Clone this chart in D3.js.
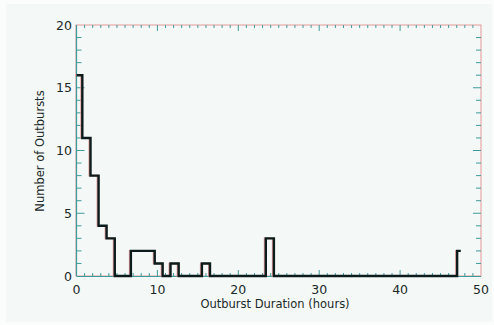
<!DOCTYPE html>
<html><head><meta charset="utf-8">
<script src="https://cdn.jsdelivr.net/npm/d3@7"></script>
<style>
html,body{margin:0;padding:0;background:#fbfdfc;}
svg{display:block;}
text{font-family:"DejaVu Sans",sans-serif;fill:#1b2a2a;}
</style></head>
<body>
<svg id="c" width="494" height="325"></svg>
<script>
// Histogram: bin edges (hours) and counts per bin
const binEdges = [0, 0.72, 1.73, 2.73, 3.72, 4.73, 6.72, 9.67, 10.65, 11.62, 12.63, 15.5, 16.5, 23.4, 24.4, 47.05, 47.5];
const binCounts = [16, 11, 8, 4, 3, 0, 2, 1, 0, 1, 0, 1, 0, 3, 0, 2];
const xTickLabels = [0, 10, 20, 30, 40, 50];
const yTickLabels = [0, 5, 10, 15, 20];
const xTitle = "Outburst Duration (hours)";
const yTitle = "Number of Outbursts";

const svg = d3.select("#c");
svg.append("rect").attr("x", 6).attr("y", 4).attr("width", 486).attr("height", 318).attr("fill", "#f4f8f6");
const L = 76.5, R = 481, T = 25, B = 276;
const x = d3.scaleLinear().domain([0, 50]).range([L, R]);
const y = d3.scaleLinear().domain([0, 20]).range([B, T]);

const teal = "#3e9c9c", pink = "#e49a9a";

// histogram step line
const pts = binCounts.map((c, i) => [binEdges[i], c]);
pts.push([binEdges[binEdges.length - 1], binCounts[binCounts.length - 1]]);
const line = d3.line().x(d => x(d[0])).y(d => y(d[1])).curve(d3.curveStepAfter);

// frame
const g = svg.append("g");
g.append("rect").attr("x", L - 0.5).attr("y", T).attr("width", R - L + 0.5).attr("height", B - T)
  .attr("fill", "none").attr("stroke", pink).attr("stroke-width", 1);
g.append("line").attr("x1", L).attr("x2", L).attr("y1", T).attr("y2", B).attr("stroke", teal).attr("stroke-width", 1.2);
g.append("line").attr("x1", L).attr("x2", R).attr("y1", B + 0.5).attr("y2", B + 0.5).attr("stroke", teal).attr("stroke-width", 1.2);

// ticks
function xt(v, len, y0, dir, col) {
  g.append("line").attr("x1", x(v)).attr("x2", x(v)).attr("y1", y0).attr("y2", y0 + dir * len)
    .attr("stroke", col).attr("stroke-width", 1);
}
function yt(v, len, x0, dir, col) {
  g.append("line").attr("y1", y(v)).attr("y2", y(v)).attr("x1", x0).attr("x2", x0 + dir * len)
    .attr("stroke", col).attr("stroke-width", 1);
}
x.ticks(50).forEach(v => {
  if (v === 0 || v === 50) return;
  const major = v % 10 === 0;
  xt(v, major ? 6 : 3, B, -1, teal);
  xt(v, major ? 6 : 3, T, 1, teal);
});
y.ticks(20).forEach(v => {
  if (v === 0 || v === 20) return;
  const major = v % 5 === 0;
  yt(v, major ? 8 : 5, L, 1, teal);
  yt(v, major ? 8 : 5, R, -1, teal);
});

// tick labels
svg.selectAll(".xl").data(xTickLabels).join("text")
  .attr("x", d => x(d)).attr("y", 294).attr("text-anchor", "middle")
  .attr("font-size", 12.5).text(d => d);
svg.selectAll(".yl").data(yTickLabels).join("text")
  .attr("x", 72).attr("y", d => y(d) + 4.5).attr("text-anchor", "end")
  .attr("font-size", 12.5).text(d => d);

// titles
svg.append("text").attr("x", 275).attr("y", 308).attr("text-anchor", "middle")
  .attr("font-size", 11.5).text(xTitle);
svg.append("text").attr("transform", "translate(44,151) rotate(-90)").attr("text-anchor", "middle")
  .attr("font-size", 11.5).text(yTitle);

// histogram
svg.append("path").attr("d", line(pts)).attr("fill", "none").attr("stroke", pink)
  .attr("stroke-width", 1.6).attr("transform", "translate(-1.2,0)");
svg.append("path").attr("d", line(pts)).attr("fill", "none").attr("stroke", "#0c1c1c")
  .attr("stroke-width", 2.4);
</script>
</body></html>
